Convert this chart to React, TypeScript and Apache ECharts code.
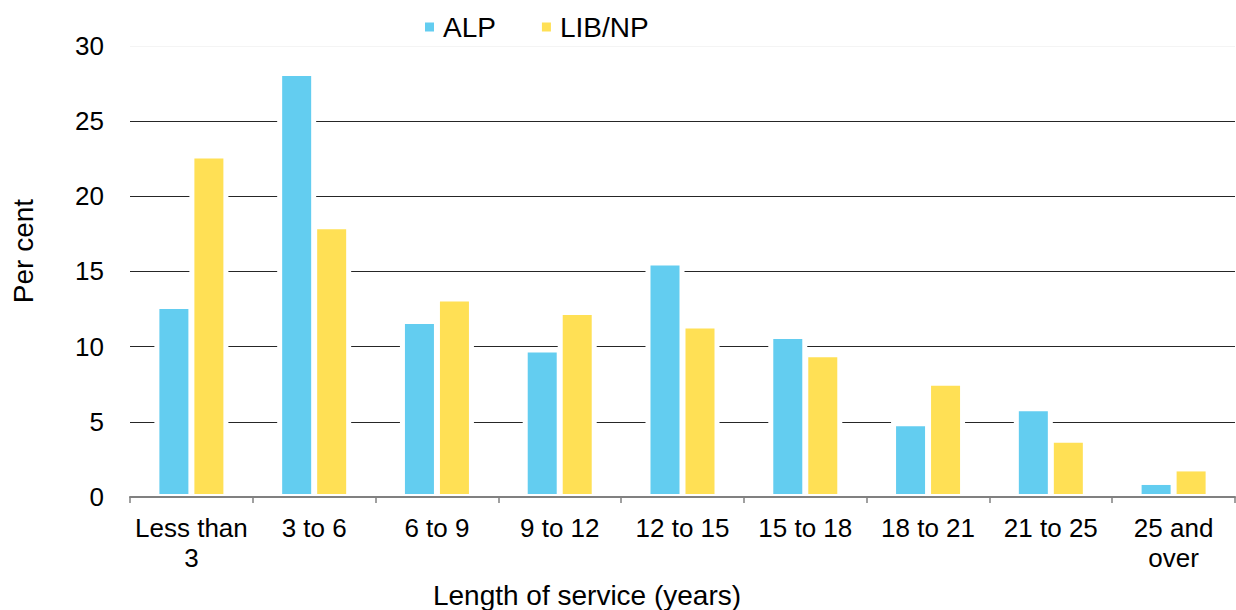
import React, { useEffect, useRef } from "react";
import * as echarts from "echarts";

// Length of service bands (x-axis categories)
const categories = [
  "Less than\n3",
  "3 to 6",
  "6 to 9",
  "9 to 12",
  "12 to 15",
  "15 to 18",
  "18 to 21",
  "21 to 25",
  "25 and\nover",
];

// Share of members in each band, per cent
const alpValues = [12.5, 28.0, 11.5, 9.6, 15.4, 10.5, 4.7, 5.7, 0.8];
const libNpValues = [22.5, 17.8, 13.0, 12.1, 11.2, 9.3, 7.4, 3.6, 1.7];

const seriesNames = ["ALP", "LIB/NP"];
const yTicks = [0, 5, 10, 15, 20, 25, 30];

const FONT = "'Liberation Sans', Arial, sans-serif";
const BLUE = "#63CDF0";
const YELLOW = "#FFE055";

// Bar geometry: fill width, white halo around each bar, offset from the band centre
const BAR_W = 29;
const HALO = 5;
const BASE_GAP = 3;

function makeRenderer(offset: number, color: string) {
  return (_params: any, api: any) => {
    const cat = api.value(0);
    const val = api.value(1);
    const base = api.coord([cat, 0]);
    const top = api.coord([cat, val]);
    const x = base[0] + offset;
    const fillBottom = base[1] - BASE_GAP;
    return {
      type: "group",
      children: [
        {
          type: "rect",
          shape: {
            x: x - HALO,
            y: top[1] - HALO,
            width: BAR_W + HALO * 2,
            height: Math.max(0, base[1] - 2 - (top[1] - HALO)),
          },
          style: { fill: "#ffffff" },
        },
        {
          type: "rect",
          shape: {
            x,
            y: top[1],
            width: BAR_W,
            height: Math.max(0, fillBottom - top[1]),
          },
          style: { fill: color },
        },
      ],
    };
  };
}

export default function App() {
  const ref = useRef<HTMLDivElement>(null);

  useEffect(() => {
    if (!ref.current) return;
    const chart = echarts.init(ref.current, null, { renderer: "svg" });

    chart.setOption({
      animation: false,
      backgroundColor: "#ffffff",
      textStyle: { fontFamily: FONT },
      grid: { left: 130, right: 1, top: 45.8, bottom: 113 },
      legend: {
        left: 420,
        top: 8,
        itemWidth: 9,
        itemHeight: 9,
        itemGap: 46,
        icon: "rect",
        textStyle: {
          fontSize: 28,
          color: "#000",
          fontFamily: FONT,
          padding: [0, 0, 0, 4],
        },
        data: seriesNames,
      },
      xAxis: {
        type: "category",
        data: categories,
        axisLine: { show: true, lineStyle: { color: "#808080", width: 2 } },
        axisTick: { show: true, length: 6, lineStyle: { color: "#808080", width: 1.5 } },
        axisLabel: {
          color: "#000",
          fontSize: 26,
          fontFamily: FONT,
          margin: 16,
          lineHeight: 30,
          interval: 0,
        },
      },
      yAxis: {
        type: "value",
        min: yTicks[0],
        max: yTicks[yTicks.length - 1],
        interval: 5,
        axisLine: { show: false },
        axisTick: { show: false },
        axisLabel: { color: "#000", fontSize: 26, fontFamily: FONT, margin: 26 },
        splitLine: {
          show: true,
          lineStyle: {
            color: ["#808080", "#262626", "#262626", "#262626", "#262626", "#262626", "#f4f4f4"],
            width: 1,
          },
        },
      },
      graphic: [
        {
          type: "text",
          x: 23,
          y: 251,
          rotation: Math.PI / 2,
          style: {
            text: "Per cent",
            font: `28px ${FONT}`,
            fill: "#000",
            textAlign: "center",
            textVerticalAlign: "middle",
          },
        },
        {
          type: "text",
          x: 587,
          y: 595,
          style: {
            text: "Length of service (years)",
            font: `28px ${FONT}`,
            fill: "#000",
            textAlign: "center",
            textVerticalAlign: "middle",
          },
        },
      ],
      series: [
        {
          name: seriesNames[0],
          type: "custom",
          data: alpValues.map((v, i) => [i, v]),
          encode: { x: 0, y: 1 },
          itemStyle: { color: BLUE },
          renderItem: makeRenderer(-32, BLUE),
        },
        {
          name: seriesNames[1],
          type: "custom",
          data: libNpValues.map((v, i) => [i, v]),
          encode: { x: 0, y: 1 },
          itemStyle: { color: YELLOW },
          renderItem: makeRenderer(3, YELLOW),
        },
      ],
    });

    return () => chart.dispose();
  }, []);

  return (
    <div
      ref={ref}
      style={{ position: "fixed", left: 0, top: 0, width: 1236, height: 610 }}
    />
  );
}
